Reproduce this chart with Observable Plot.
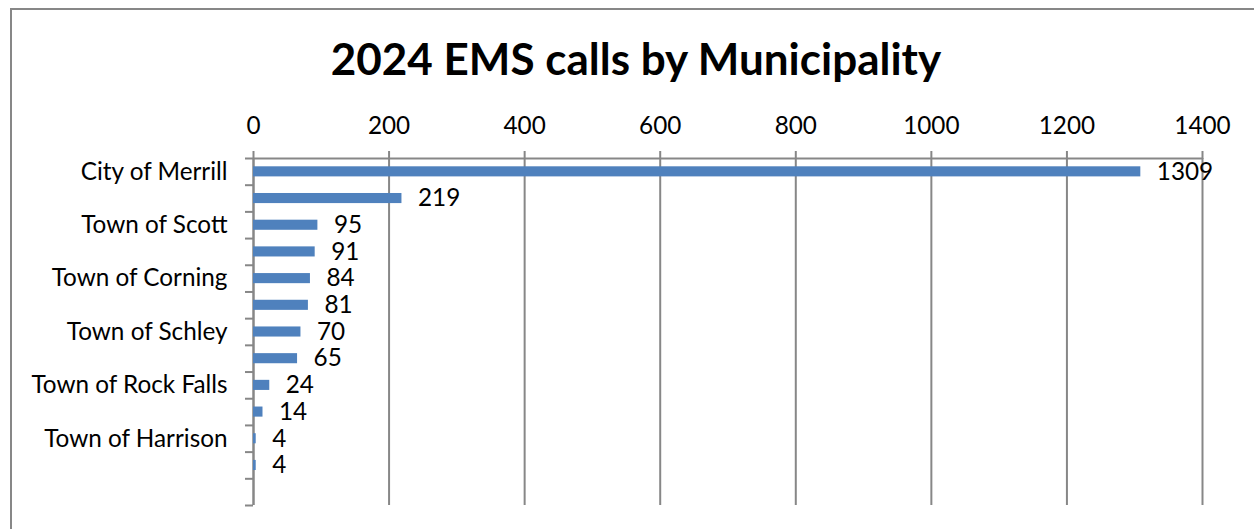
<!DOCTYPE html>
<html>
<head>
<meta charset="utf-8">
<script src="https://cdn.jsdelivr.net/npm/d3@7"></script>
<script src="https://cdn.jsdelivr.net/npm/@observablehq/plot@0.6"></script>
<style>
  html, body { margin: 0; padding: 0; background: #fff; overflow: hidden; width: 1254px; height: 529px; }
  #frame { position: absolute; left: 10px; top: 8px; width: 1400px; height: 700px; border-left: 2px solid #878787; border-top: 2px solid #878787; }
  #title { position: absolute; left: 0; width: 1272px; top: 36px; text-align: center; font-family: Lato, sans-serif; font-weight: bold; font-size: 44px; line-height: 1; color: #000; }
  #chart { position: absolute; left: 0; top: 0; }
</style>
</head>
<body>
<div id="frame"></div>
<div id="title">2024 EMS calls by Municipality</div>
<div id="chart"></div>
<script>
// Categories (Excel showed only every other label; unshown labels left blank)
const categories = ["City of Merrill", "", "Town of Scott", "", "Town of Corning", "", "Town of Schley", "", "Town of Rock Falls", "", "Town of Harrison", ""];
const calls = [1309, 219, 95, 91, 84, 81, 70, 65, 24, 14, 4, 4];
const xTicks = [0, 200, 400, 600, 800, 1000, 1200, 1400];
const slotCount = 13;

const data = categories.map((c, i) => ({ name: c, value: calls[i], i }));

const gray = "#878787";
const font = "Lato, sans-serif";
const fs = 24.3;

const chart = Plot.plot({
  width: 1254,
  height: 529,
  marginLeft: 253,
  marginRight: 52,
  marginTop: 158,
  marginBottom: 24,
  style: { fontFamily: font, fontSize: fs + "px", color: "#000", background: "transparent", overflow: "visible" },
  x: { domain: [0, 1400] },
  y: { domain: [0, slotCount], reverse: true },
  marks: [
    Plot.gridX(xTicks, { stroke: gray, strokeOpacity: 1, strokeWidth: 2 }),
    Plot.axisX({ anchor: "top", ticks: xTicks, tickSize: 8, tickPadding: 17, stroke: gray, fill: "#000", strokeWidth: 2, fontSize: fs, label: null, tickFormat: d => String(d) }),
    Plot.axisY({ anchor: "left", ticks: d3.range(0, slotCount + 1), tickSize: 8, stroke: gray, strokeWidth: 2, tickFormat: () => "", label: null }),
    Plot.ruleY([0], { stroke: gray, strokeWidth: 2 }),
    Plot.ruleX([0], { stroke: gray, strokeWidth: 2 }),
    Plot.rectX(data, { x1: 0, x2: "value", y1: d => d.i, y2: d => d.i + 1, insetTop: 8.3, insetBottom: 8.3, fill: "#4F81BD" }),
    Plot.text(data, { x: "value", y: d => d.i + 0.5, text: d => String(d.value), dx: 16, textAnchor: "start", fontSize: fs, fill: "#000" }),
    Plot.text(data, { x: 0, y: d => d.i + 0.5, text: "name", dx: -26, textAnchor: "end", fontSize: fs, fill: "#000" })
  ]
});
document.getElementById("chart").appendChild(chart);
</script>
</body>
</html>
